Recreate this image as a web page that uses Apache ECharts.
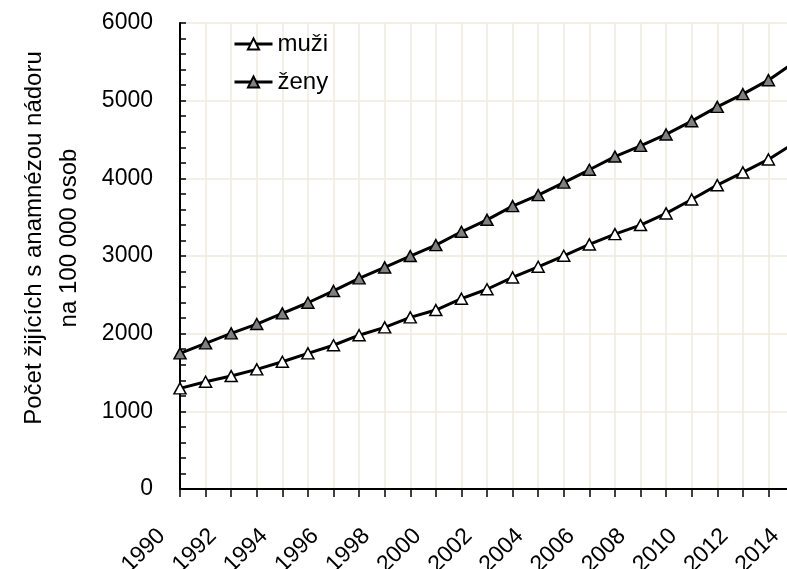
<!DOCTYPE html>
<html>
<head>
<meta charset="utf-8">
<script src="https://cdn.jsdelivr.net/npm/echarts@6/dist/echarts.min.js"></script>
<style>
  html, body { margin: 0; padding: 0; background: #fff; }
  #chart { width: 787px; height: 569px; }
</style>
</head>
<body>
<div id="chart"></div>
<script>
// data
const years = [1990, 1991, 1992, 1993, 1994, 1995, 1996, 1997, 1998, 1999, 2000, 2001, 2002,
  2003, 2004, 2005, 2006, 2007, 2008, 2009, 2010, 2011, 2012, 2013, 2014]
const muzi = [1296, 1381, 1454, 1540, 1638, 1746, 1851, 1980, 2081, 2210, 2304, 2450, 2572,
  2724, 2861, 3003, 3149, 3282, 3398, 3548, 3728, 3912, 4076, 4243, 4452]
const zeny = [1746, 1875, 2004, 2124, 2261, 2398, 2550, 2712, 2853, 2999, 3140, 3312, 3466,
  3642, 3784, 3945, 4110, 4280, 4418, 4565, 4736, 4920, 5084, 5264, 5490]
const seriesNames = ['muži', 'ženy']
const yTitle = 'Počet žijících s anamnézou nádoru\nna 100 000 osob'

const font = 'Liberation Sans, Arial, sans-serif'
const gridColor = '#eeeade'

const chart = echarts.init(document.getElementById('chart'), null, { renderer: 'canvas' })

function pairs(vals) {
  return years.map((y, i) => [y, vals[i]])
}

function lineSeries(name, vals, fill) {
  return {
    name: name,
    type: 'line',
    data: pairs(vals),
    symbol: 'triangle',
    symbolSize: [12, 11],
    showSymbol: true,
    lineStyle: { color: '#000', width: 3 },
    itemStyle: { color: fill, borderColor: '#000', borderWidth: 1.5 },
    animation: false,
    z: name === 'ženy' ? 3 : 2
  }
}

chart.setOption({
  backgroundColor: '#fff',
  textStyle: { fontFamily: font },
  grid: { left: 180, top: 23, right: -7, bottom: 80, containLabel: false, outerBoundsMode: 'none' },
  legend: {
    orient: 'vertical',
    left: 228,
    top: 27,
    itemWidth: 38,
    itemHeight: 14,
    itemGap: 14,
    data: seriesNames,
    lineStyle: { width: 3, color: '#000' },
    textStyle: { fontFamily: font, fontSize: 24, color: '#000' }
  },
  graphic: [{
    type: 'text',
    x: 52,
    y: 238,
    rotation: Math.PI / 2,
    style: {
      text: yTitle,
      font: '24px ' + font,
      fill: '#000',
      align: 'center',
      verticalAlign: 'middle',
      lineHeight: 35
    }
  }],
  xAxis: {
    type: 'value',
    min: 1990,
    max: 2014,
    interval: 1,
    axisLine: { show: true, onZero: false, lineStyle: { color: '#000', width: 2 } },
    axisTick: { show: true, inside: false, length: 8, lineStyle: { color: '#000', width: 1.5 } },
    splitLine: { show: true, lineStyle: { color: gridColor, width: 1.5 } },
    axisLabel: {
      rotate: 45,
      margin: 25,
      padding: [0, 26, 0, 0],
      fontSize: 23,
      color: '#000',
      fontFamily: font,
      formatter: v => (v % 2 === 0 ? String(v) : '')
    }
  },
  yAxis: {
    type: 'value',
    min: 0,
    max: 6000,
    interval: 1000,
    axisLine: { show: true, lineStyle: { color: '#000', width: 2 } },
    axisTick: { show: true, inside: true, length: 6, lineStyle: { color: '#000', width: 1.5 } },
    minorTick: { show: true, splitNumber: 5, length: 6, lineStyle: { color: '#000', width: 1.5 } },
    splitLine: { show: true, lineStyle: { color: gridColor, width: 1.5 } },
    axisLabel: {
      margin: 27,
      fontSize: 23,
      color: '#000',
      fontFamily: font,
      formatter: v => String(v)
    }
  },
  series: [
    lineSeries(seriesNames[0], muzi, '#fff'),
    lineSeries(seriesNames[1], zeny, '#808080')
  ]
})
</script>
</body>
</html>
